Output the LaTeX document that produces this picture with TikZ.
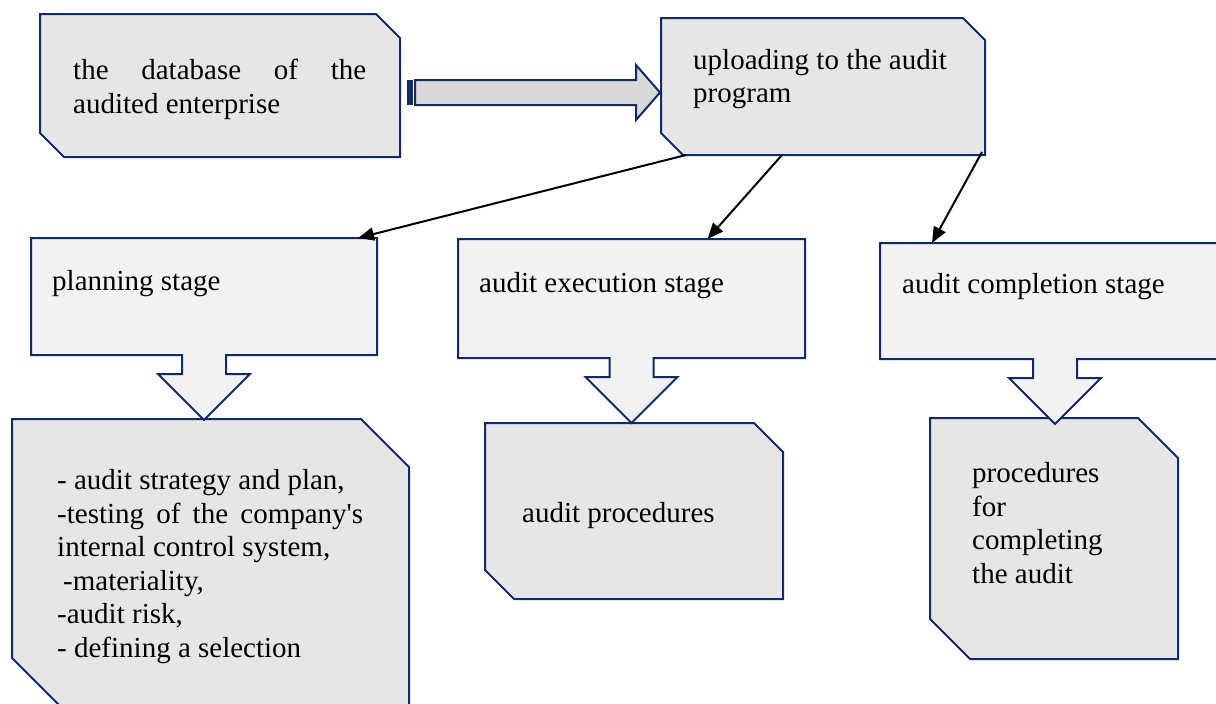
\documentclass[tikz,border=0pt]{standalone}
\usepackage{fontspec}
\setmainfont{Liberation Serif}
\usetikzlibrary{arrows.meta,positioning,calc}
\definecolor{boxline}{HTML}{102A6A}
\definecolor{boxgrey}{HTML}{E6E6E6}
\definecolor{stagegrey}{HTML}{F2F2F2}
\definecolor{shaftgrey}{HTML}{D9D9D9}

\begin{document}
\begin{tikzpicture}[x=1pt, y=-1pt,
    txt/.style={inner sep=0pt, anchor=base west, align=left,
        font=\fontsize{29}{33.5}\selectfont},
    plainbox/.style={rectangle, inner sep=0pt, outer sep=0pt},
    cutline/.style={draw=boxline, line width=2pt, fill=boxgrey},
    stageline/.style={draw=boxline, line width=2pt, fill=stagegrey},
    link/.style={draw=black, line width=2pt, -{Triangle[length=16pt,width=13pt]}}]
    \useasboundingbox (0,0) rectangle (1216,704);

    % top row
    \node[plainbox, minimum width=360, minimum height=143] (db) at (220,85.5) {};
    \node[plainbox, minimum width=324, minimum height=137] (upload) at (823,86.5) {};

    % bottom row
    \node[plainbox, minimum width=397, minimum height=287] (planwork) at (210.5,562.5) {};
    \node[plainbox, minimum width=298, minimum height=176] (execwork) at (634,511) {};
    \node[plainbox, minimum width=248, minimum height=241] (complwork) at (1054,538.5) {};

    % cut corners: north east and south west
    \foreach \b/\c in {db/24, upload/22, planwork/48, execwork/29, complwork/40}{
        \filldraw[cutline] (\b.north west) -- ($(\b.north east)+(-\c,0)$) -- ($(\b.north east)+(0,\c)$)
            -- (\b.south east) -- ($(\b.south west)+(\c,0)$) -- ($(\b.south west)+(0,-\c)$) -- cycle;
    }

    % striped block arrow between the top boxes
    \fill[boxline] (407,80) rectangle (412.5,105);
    \filldraw[draw=boxline, line width=2pt, fill=shaftgrey]
        (415,80) -- (636,80) -- (636,65) -- (660,92.5) -- (636,120) -- (636,105) -- (415,105) -- cycle;

    % stages with their down arrows
    \foreach \s/\w/\h/\cx/\cy in {plan/346/117/204/296.5, exec/347/119/631.5/298.5, compl/350/116/1055/301}{
        \node[plainbox, minimum width=\w, minimum height=\h] (\s) at (\cx,\cy) {};
        \filldraw[stageline] (\s.south west) -- (\s.north west) -- (\s.north east) -- (\s.south east)
            -- ($(\s.south)+(22,0)$) -- ++(0,19) -- ++(24,0) -- ($(\s.south)+(0,65)$)
            -- ($(\s.south)+(-46,19)$) -- ++(24,0) -- ($(\s.south)+(-22,0)$) -- cycle;
    }

    % links from the audit program
    \draw[link] ($(upload.south west)+(25,0)$) -- ($(plan.north east)+(-19,0)$);
    \draw[link] ($(upload.south west)+(121,0)$) -- ($(exec.north)+(76,0)$);
    \draw[link] ($(upload.south east)+(-3,-3)$) -- ($(compl.north west)+(52,0)$);

    % texts (base = last line)
    \node[txt] (dbtext) at (73,113) {\makebox[293pt][s]{the database of the}\\audited enterprise};
    \node[txt] (uploadtext) at (693,102.5) {uploading to the audit\\program};
    \node[txt] (plantext) at (52,290) {planning stage};
    \node[txt] (exectext) at (479,292) {audit execution stage};
    \node[txt] (compltext) at (902,293) {audit completion stage};
    \node[txt] (planworktext) at (57,657) {- audit strategy and plan,\\\makebox[306pt][s]{-testing of the company\textquotesingle s}\\internal control system,\\\hspace*{6pt}-materiality,\\-audit risk,\\- defining a selection};
    \node[txt] (execworktext) at (522,522) {audit procedures};
    \node[txt] (complworktext) at (972,583) {procedures\\for\\completing\\the audit};
\end{tikzpicture}
\end{document}
